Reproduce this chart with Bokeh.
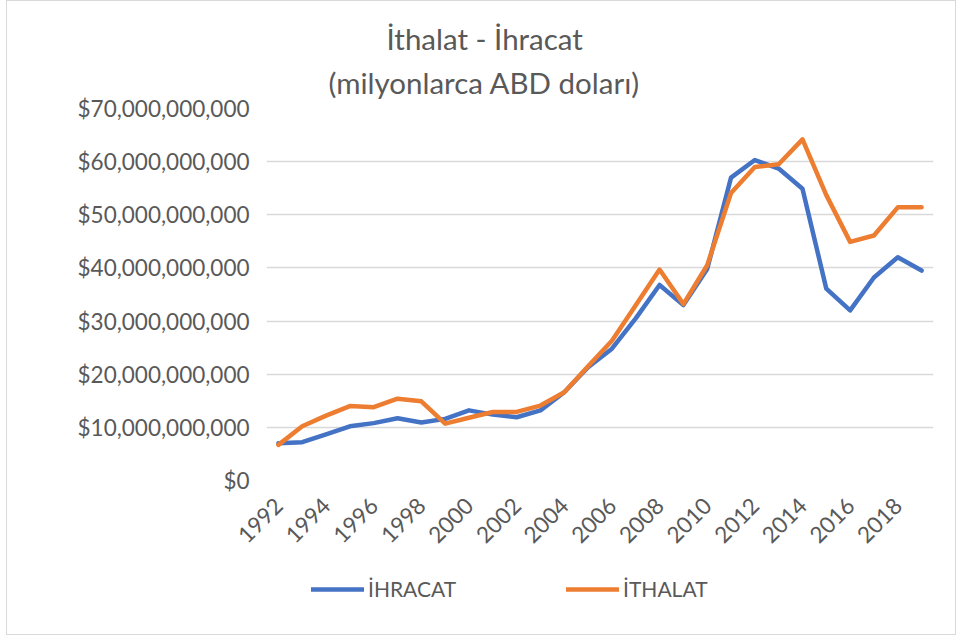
from math import pi
from bokeh.plotting import figure
from bokeh.layouts import column
from bokeh.models import (ColumnDataSource, Range1d, FixedTicker, SingleIntervalTicker,
                          NumeralTickFormatter, Legend, LegendItem, Title)
from bokeh.embed import file_html
from bokeh.resources import INLINE

years = [1992, 1993, 1994, 1995, 1996, 1997, 1998, 1999, 2000, 2001, 2002, 2003, 2004, 2005,
         2006, 2007, 2008, 2009, 2010, 2011, 2012, 2013, 2014, 2015, 2016, 2017, 2018, 2019]
ihracat_bn = [7.0, 7.2, 8.7, 10.2, 10.8, 11.7, 10.9, 11.6, 13.2, 12.4, 11.9, 13.2, 16.6, 21.3,
              24.8, 30.5, 36.8, 33.0, 39.8, 57.0, 60.3, 58.7, 54.9, 36.1, 32.0, 38.2, 42.0, 39.5]
ithalat_bn = [6.7, 10.2, 12.2, 14.0, 13.8, 15.4, 14.9, 10.7, 11.8, 12.9, 12.9, 14.1, 16.6, 21.5,
              26.3, 33.0, 39.7, 33.2, 40.5, 54.1, 59.0, 59.5, 64.2, 53.7, 44.9, 46.1, 51.4, 51.4]
tick_years = [1992, 1994, 1996, 1998, 2000, 2002, 2004, 2006, 2008, 2010, 2012, 2014, 2016, 2018]
series_names = ["İHRACAT", "İTHALAT"]
title_lines = ["İthalat - İhracat", "(milyonlarca ABD doları)"]

FONT = "Lato"
GRAY = "#595959"
BLUE = "#4472C4"
ORANGE = "#ED7D31"
TICK_SIZE = "22.5px"
LEGEND_SIZE = "21px"
LINE_W = 4.5

src = ColumnDataSource(dict(
    year=years,
    ihracat=[v * 1e9 for v in ihracat_bn],
    ithalat=[v * 1e9 for v in ithalat_bn],
))

# ---- main chart ----
p = figure(width=948, height=559, output_backend="svg", toolbar_location=None, title=None,
           x_range=Range1d(1991.5, 2019.5), y_range=Range1d(0, 70e9),
           frame_width=667, frame_height=372,
           min_border_left=259, min_border_right=22, min_border_top=107, min_border_bottom=80)
p.outline_line_color = None
p.background_fill_color = "white"
p.border_fill_color = "white"

p.line("year", "ihracat", source=src, line_color=BLUE, line_width=LINE_W,
       line_join="round", line_cap="round")
p.line("year", "ithalat", source=src, line_color=ORANGE, line_width=LINE_W,
       line_join="round", line_cap="round")

p.yaxis.ticker = SingleIntervalTicker(interval=10e9)
p.yaxis.formatter = NumeralTickFormatter(format="$0,0")
p.xaxis.ticker = FixedTicker(ticks=tick_years)
p.xaxis.major_label_orientation = pi / 4
for ax in (p.xaxis, p.yaxis):
    ax.axis_line_color = None
    ax.major_tick_line_color = None
    ax.minor_tick_line_color = None
    ax.major_label_text_font = FONT
    ax.major_label_text_font_size = TICK_SIZE
    ax.major_label_text_color = GRAY
p.yaxis.major_label_standoff = 11
p.xaxis.major_label_standoff = 15

p.xgrid.grid_line_color = None
p.ygrid.grid_line_color = "#d9d9d9"
p.ygrid.grid_line_width = 1.5

# two-line title (first added sits nearest the plot)
p.add_layout(Title(text=title_lines[1], align="left", offset=62, vertical_align="middle",
                   standoff=16, text_font=FONT, text_font_size="29.5px",
                   text_font_style="normal", text_color=GRAY), "above")
p.add_layout(Title(text=title_lines[0], align="left", offset=120, vertical_align="bottom",
                   standoff=0, text_font=FONT, text_font_size="29.5px",
                   text_font_style="normal", text_color=GRAY), "above")

# ---- legend strip under the chart (same series, drawn outside its view) ----
leg = figure(width=948, height=74, output_backend="svg", toolbar_location=None, title=None,
             x_range=Range1d(0, 1), y_range=Range1d(0, 1),
             x_axis_location=None, y_axis_location=None,
             min_border_left=0, min_border_right=0, min_border_top=0, min_border_bottom=0)
leg.outline_line_color = None
leg.grid.visible = False
leg.border_fill_color = "white"
k1 = leg.line("year", "ihracat", source=src, line_color=BLUE, line_width=LINE_W,
              line_cap="round")
k2 = leg.line("year", "ithalat", source=src, line_color=ORANGE, line_width=LINE_W,
              line_cap="round")
legend = Legend(items=[LegendItem(label=series_names[0], renderers=[k1]),
                       LegendItem(label=series_names[1], renderers=[k2])],
                orientation="horizontal", location=(45, 33),
                label_text_font=FONT, label_text_font_size=LEGEND_SIZE, label_text_color=GRAY,
                glyph_width=53, glyph_height=20, label_standoff=4, spacing=110,
                border_line_color=None, background_fill_alpha=0, padding=0, margin=0)
leg.add_layout(legend, "center")

layout = column(p, leg, spacing=0,
                styles={"border": "1px solid #d9d9d9", "margin-left": "6px"})

open("out.html", "w").write(file_html(layout, INLINE))
